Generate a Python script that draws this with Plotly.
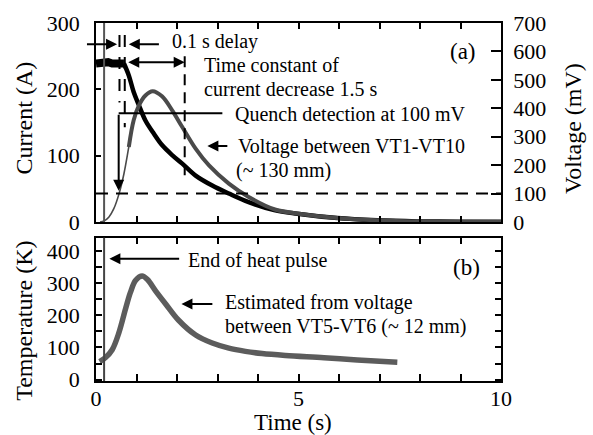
import plotly.graph_objects as go

# ---------------- data ----------------
# (a) coil current (A): flat part before the dump, then decay
cur_flat_t = [0.0, 0.1, 0.2, 0.3, 0.4, 0.5, 0.6, 0.69]
cur_flat_A = [239, 240, 238, 241, 239, 240, 238, 239]
cur_t = [0.69, 0.81, 0.93, 1.06, 1.22, 1.43, 1.63, 1.88, 2.13, 2.46, 2.87,
         3.28, 3.77, 4.4, 4.97, 5.96, 6.94, 7.93, 9.0, 10.0]
cur_A = [239, 221, 196, 176, 153, 133, 116, 101, 88, 70, 55,
         43, 30, 18, 12.6, 6, 2.6, 1.0, 0.5, 0.3]

# (a) voltage between VT1-VT10 (mV)
volt_t = [0.1, 0.2, 0.32, 0.44, 0.57, 0.69, 0.81, 0.93, 1.06, 1.22, 1.40,
          1.63, 1.88, 2.13, 2.46, 2.79, 3.28, 3.77, 4.4, 4.97, 5.96, 6.94,
          7.93, 9.0, 10.0]
volt_mV = [0, 4, 18, 47, 100, 170, 264, 358, 410, 445, 460,
           442, 393, 334, 258, 199, 135, 88, 45, 30, 14, 6,
           2, 1, 0.5]

# (b) estimated temperature (K), read against the axis labels
temp_t = [0.09, 0.23, 0.40, 0.56, 0.73, 0.85, 0.98, 1.14, 1.27, 1.47, 1.72,
          2.04, 2.46, 2.87, 3.28, 3.69, 4.10, 4.68, 5.63, 6.45, 7.44]
temp_K = [56, 68, 93, 144, 221, 272, 310, 323, 312, 277, 236,
          185, 139, 114, 98, 88, 81, 75, 68, 61, 54]

# characteristic times / levels
heat_end_t = 0.2
detect_t = 0.58
switch_t = 0.71
tau_end_t = 2.19
threshold_mV = 100

# tick labels
a_left_ticks = [0, 100, 200, 300]
a_right_ticks = [0, 100, 200, 300, 400, 500, 600, 700]
time_ticks = list(range(0, 11))
time_labels = ["0", "", "", "", "", "5", "", "", "", "", "10"]
temp_ticks = [0, 50, 100, 150, 200, 250, 300, 350, 400]
temp_labels = ["0", "", "100", "", "200", "", "300", "", "400"]

FONT = "Liberation Serif, Tinos, Times New Roman, DejaVu Serif, serif"
split = volt_t.index(0.93)

fig = go.Figure()
fig.add_trace(go.Scatter(x=cur_flat_t, y=cur_flat_A, mode="lines",
                         line=dict(color="#000000", width=8),
                         xaxis="x", yaxis="y", showlegend=False))
fig.add_trace(go.Scatter(x=cur_t, y=cur_A, mode="lines",
                         line=dict(color="#000000", width=4.5, shape="spline"),
                         xaxis="x", yaxis="y", showlegend=False))
fig.add_trace(go.Scatter(x=volt_t[:split + 1], y=volt_mV[:split + 1], mode="lines",
                         line=dict(color="#4a4a4a", width=1.6, shape="spline"),
                         xaxis="x", yaxis="y2", showlegend=False))
fig.add_trace(go.Scatter(x=volt_t[split - 1:], y=volt_mV[split - 1:], mode="lines",
                         line=dict(color="#4a4a4a", width=4, shape="spline"),
                         xaxis="x", yaxis="y2", showlegend=False))
fig.add_trace(go.Scatter(x=temp_t, y=temp_K, mode="lines",
                         line=dict(color="#5c5c5c", width=5.5, shape="spline"),
                         xaxis="x2", yaxis="y3", showlegend=False))

axis_common = dict(showline=True, linecolor="black", linewidth=1.5,
                   ticks="inside", tickcolor="black", tickwidth=1.5,
                   showgrid=False, zeroline=False,
                   tickfont=dict(family=FONT, size=22, color="black"))

fig.update_layout(
    width=593, height=435,
    margin=dict(l=96, r=92, t=23, b=54),
    paper_bgcolor="white", plot_bgcolor="white",
    xaxis=dict(domain=[0, 1], anchor="y", range=[0, 10], tickvals=time_ticks,
               showticklabels=False, ticklen=6, mirror="ticks", **axis_common),
    yaxis=dict(domain=[0.444, 1], anchor="x", range=[0, 300], tickvals=a_left_ticks,
               ticklen=5, ticklabelstandoff=10, **axis_common),
    yaxis2=dict(overlaying="y", side="right", anchor="x", range=[0, 700],
                tickvals=a_right_ticks, ticklen=10, ticklabelstandoff=6, **axis_common),
    xaxis2=dict(domain=[0, 1], anchor="y3", range=[0, 10], tickvals=time_ticks,
                ticktext=time_labels, ticklen=7, mirror="ticks",
                ticklabelstandoff=-3, **axis_common),
    yaxis3=dict(domain=[0, 0.4003], anchor="x2", range=[-4.6, 442.8], tickvals=temp_ticks,
                ticktext=temp_labels, ticklen=6, mirror="ticks",
                ticklabelstandoff=10, **axis_common),
    font=dict(family=FONT, color="black"),
)

shapes = [
    dict(type="line", xref="x", yref="y domain", x0=heat_end_t, x1=heat_end_t,
         y0=0, y1=1, line=dict(color="#555555", width=2)),
    dict(type="line", xref="x2", yref="y3 domain", x0=heat_end_t, x1=heat_end_t,
         y0=0, y1=1, line=dict(color="#444444", width=2)),
    dict(type="line", xref="x domain", yref="y2", x0=0, x1=1,
         y0=threshold_mV, y1=threshold_mV,
         line=dict(color="black", width=2, dash="12px,8px")),
    dict(type="line", xref="x", yref="y", x0=detect_t, x1=detect_t, y0=282, y1=180,
         line=dict(color="black", width=2, dash="12px,10px")),
    dict(type="line", xref="x", yref="y", x0=switch_t, x1=switch_t, y0=282, y1=143,
         line=dict(color="black", width=2, dash="12px,10px")),
    dict(type="line", xref="x", yref="y", x0=tau_end_t, x1=tau_end_t, y0=250, y1=68,
         line=dict(color="black", width=2, dash="11px,7px")),
    dict(type="line", xref="x", yref="y", x0=0.56, x1=3.12, y0=164, y1=164,
         line=dict(color="black", width=2)),
]
fig.update_layout(shapes=shapes)


def arrow(x, y, ax, ay, xr="x", yr="y", both=False):
    d = dict(x=x, y=y, ax=ax, ay=ay, xref=xr, yref=yr, axref=xr, ayref=yr,
             text="", showarrow=True, arrowhead=2, arrowsize=1.1, arrowwidth=2,
             arrowcolor="black", standoff=0, startstandoff=0)
    if both:
        d.update(arrowside="end+start", startarrowhead=2, startarrowsize=1.1)
    return d


def label(x, y, text, xr="x", yr="y", size=20, xanchor="left"):
    return dict(x=x, y=y, xref=xr, yref=yr, text=text, showarrow=False,
                xanchor=xanchor, yanchor="middle", borderpad=0,
                font=dict(family=FONT, size=size, color="black"))


annotations = [
    # panel (a)
    arrow(0.52, 268, -0.26, 268),
    arrow(0.81, 268, 1.59, 268),
    label(1.84, 271.5, "0.1 s delay"),
    arrow(tau_end_t, 241, 0.76, 241, both=True),
    label(2.65, 237, "Time constant of"),
    label(2.65, 200.5, "current decrease 1.5 s"),
    arrow(0.56, 47, 0.56, 164),
    label(3.40, 163, "Quench detection at 100 mV"),
    arrow(2.75, 114.5, 3.28, 114.5),
    label(3.49, 114.5, "Voltage between VT1-VT10"),
    label(3.42, 78, "(~ 130 mm)"),
    label(9.06, 256.5, "(a)", size=23, xanchor="center"),
    # panel (b)
    arrow(0.33, 377, 2.09, 377, xr="x2", yr="y3"),
    label(2.25, 372, "End of heat pulse", xr="x2", yr="y3"),
    arrow(2.11, 236, 2.91, 236, xr="x2", yr="y3"),
    label(3.16, 240, "Estimated from voltage", xr="x2", yr="y3"),
    label(3.16, 167, "between VT5-VT6 (~ 12 mm)", xr="x2", yr="y3"),
    label(9.15, 350, "(b)", xr="x2", yr="y3", size=23, xanchor="center"),
    # axis titles
    dict(x=-0.178, y=0.736, xref="paper", yref="paper", text="Current (A)",
         showarrow=False, textangle=-90, xanchor="center", yanchor="middle",
         font=dict(family=FONT, size=24, color="black")),
    dict(x=1.178, y=0.704, xref="paper", yref="paper", text="Voltage (mV)",
         showarrow=False, textangle=-90, xanchor="center", yanchor="middle",
         font=dict(family=FONT, size=24, color="black")),
    dict(x=-0.178, y=0.168, xref="paper", yref="paper", text="Temperature (K)",
         showarrow=False, textangle=-90, xanchor="center", yanchor="middle",
         font=dict(family=FONT, size=24, color="black")),
    dict(x=0.486, y=-0.116, xref="paper", yref="paper", text="Time (s)",
         showarrow=False, xanchor="center", yanchor="middle", borderpad=0,
         font=dict(family=FONT, size=23, color="black")),
]
fig.update_layout(annotations=annotations)

fig.write_html("out.html")
